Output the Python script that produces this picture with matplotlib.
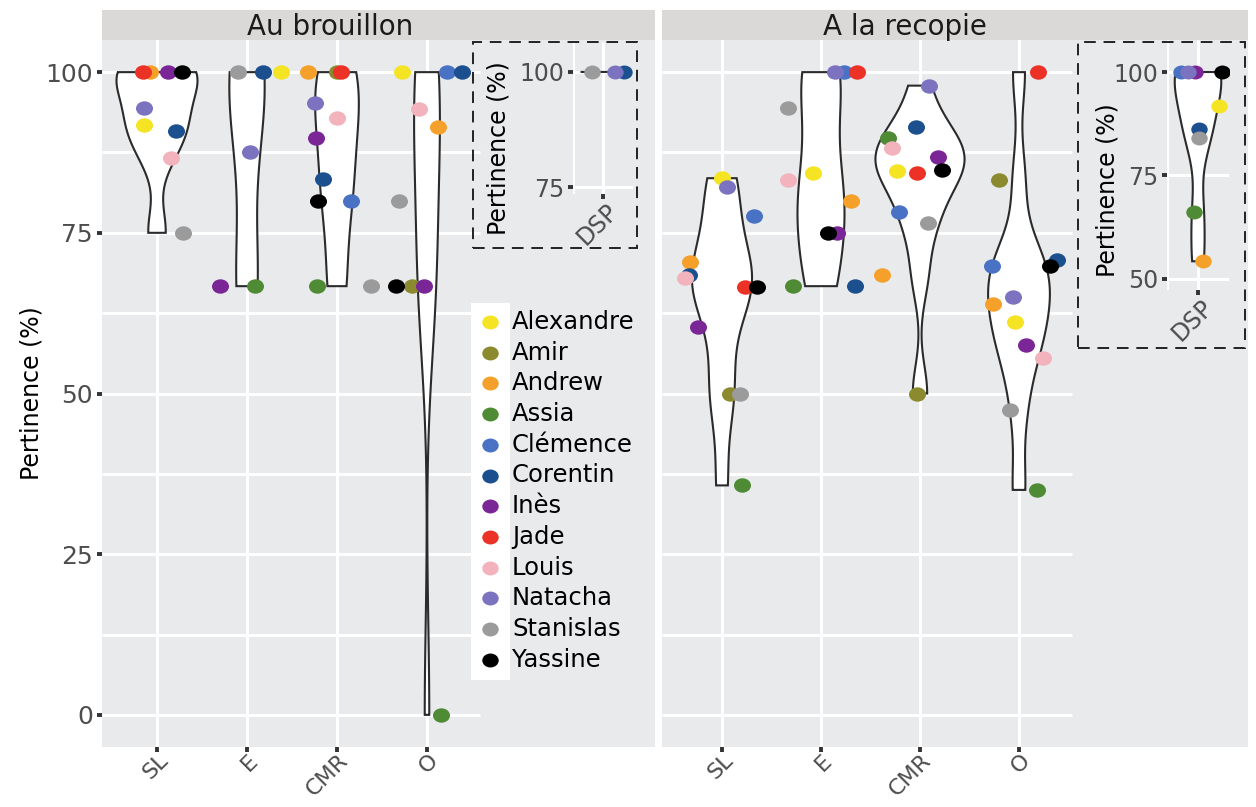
import numpy as np
import matplotlib
matplotlib.use('Agg')
import matplotlib.pyplot as plt
from matplotlib.path import Path
from matplotlib.markers import MarkerStyle
from matplotlib.patches import Rectangle, Polygon
from matplotlib.transforms import Affine2D, ScaledTranslation

W, H = 1256, 807
PANEL = '#E8EAEC'
STRIP = '#DAD9D8'
plt.rcParams['font.family'] = ['DejaVu Sans']

people = ['Alexandre', 'Amir', 'Andrew', 'Assia', 'Clémence', 'Corentin',
          'Inès', 'Jade', 'Louis', 'Natacha', 'Stanislas', 'Yassine']
colors = ['#F4E423', '#8C8A2E', '#F5A02A', '#4F8A35', '#4A72C4', '#1B4F8E',
          '#7A2696', '#EC3127', '#F2B3BD', '#7B73C0', '#9B9B9B', '#000000']
cats = ['SL', 'E', 'CMR', 'O']

# "Au brouillon" panel
brou_cat = ['SL'] * 9 + ['E'] * 6 + ['CMR'] * 11 + ['O'] * 10
brou_who = ['Jade', 'Andrew', 'Inès', 'Yassine', 'Natacha', 'Alexandre', 'Corentin', 'Louis', 'Stanislas',
            'Stanislas', 'Corentin', 'Alexandre', 'Natacha', 'Inès', 'Assia',
            'Andrew', 'Amir', 'Jade', 'Natacha', 'Louis', 'Inès', 'Corentin', 'Yassine', 'Clémence', 'Assia', 'Stanislas',
            'Alexandre', 'Clémence', 'Corentin', 'Louis', 'Andrew', 'Stanislas', 'Yassine', 'Amir', 'Inès', 'Assia']
brou_val = [100, 100, 100, 100, 94.4, 91.7, 90.9, 86.7, 75,
            100, 100, 100, 87.5, 66.7, 66.7,
            100, 100, 100, 95.2, 92.9, 89.7, 83.3, 80, 80, 66.7, 66.7,
            100, 100, 100, 94.2, 91.4, 80, 66.7, 66.7, 66.7, 0]
# horizontal jitter (category units)
brou_jit = [-0.16, -0.08, 0.12, 0.28, -0.15, -0.15, 0.21, 0.16, 0.29,
            -0.10, 0.18, 0.38, 0.03, -0.30, 0.09,
            -0.32, 0.0, 0.04, -0.24, 0.0, -0.23, -0.16, -0.21, 0.15, -0.22, 0.38,
            -0.28, 0.22, 0.39, -0.09, 0.12, -0.31, -0.34, -0.17, -0.03, 0.15]

# "A la recopie" panel
reco_cat = ['SL'] * 12 + ['E'] * 11 + ['CMR'] * 12 + ['O'] * 12
reco_who = ['Alexandre', 'Natacha', 'Clémence', 'Andrew', 'Corentin', 'Louis', 'Jade', 'Yassine', 'Inès', 'Amir', 'Stanislas', 'Assia',
            'Stanislas', 'Louis', 'Alexandre', 'Natacha', 'Clémence', 'Jade', 'Andrew', 'Inès', 'Yassine', 'Assia', 'Corentin',
            'Natacha', 'Corentin', 'Assia', 'Louis', 'Inès', 'Alexandre', 'Jade', 'Yassine', 'Clémence', 'Stanislas', 'Andrew', 'Amir',
            'Jade', 'Amir', 'Clémence', 'Corentin', 'Yassine', 'Natacha', 'Andrew', 'Alexandre', 'Inès', 'Louis', 'Stanislas', 'Assia']
reco_val = [83.5, 82.1, 77.6, 70.4, 68.5, 67.9, 66.5, 66.5, 60.3, 50, 50, 35.7,
            94.4, 83.2, 84.3, 100, 100, 100, 80, 75, 75, 66.7, 66.7,
            97.9, 91.4, 89.7, 88.2, 86.8, 84.6, 84.3, 84.7, 78.3, 76.5, 68.4, 50,
            100, 83.2, 69.8, 70.7, 69.8, 65, 63.9, 61.1, 57.5, 55.6, 47.5, 35]
reco_jit = [0.0, 0.05, 0.32, -0.32, -0.33, -0.37, 0.23, 0.35, -0.24, 0.08, 0.18, 0.20,
            -0.33, -0.33, -0.08, 0.14, 0.23, 0.36, 0.30, 0.16, 0.07, -0.28, 0.34,
            0.09, -0.04, -0.32, -0.28, 0.18, -0.23, -0.03, 0.22, -0.21, 0.08, -0.38, -0.03,
            0.19, -0.20, -0.27, 0.38, 0.31, -0.06, -0.26, -0.04, 0.07, 0.24, -0.09, 0.18]

# DSP insets
dsp_brou_who = ['Stanislas', 'Natacha', 'Corentin']
dsp_brou_val = [100, 100, 100]
dsp_brou_jit = [-0.22, 0.24, 0.42]
dsp_reco_who = ['Clémence', 'Natacha', 'Inès', 'Yassine', 'Alexandre', 'Corentin', 'Stanislas', 'Assia', 'Andrew']
dsp_reco_val = [100, 100, 100, 100, 91.8, 86.2, 84, 66.1, 54.2]
dsp_reco_jit = [-0.33, -0.2, -0.05, 0.46, 0.41, 0.02, 0.02, -0.08, 0.1]

col_of = dict(zip(people, colors))
order = {p: i for i, p in enumerate(people)}
dot = MarkerStyle(Path.unit_circle().transformed(Affine2D().scale(1.18, 1.0)))


def bw_nrd0(x):
    x = np.asarray(x, float)
    hi = np.std(x, ddof=1) if len(x) > 1 else 0.0
    iqr = np.subtract(*np.percentile(x, [75, 25]))
    lo = min(hi, iqr / 1.34)
    if not lo > 0:
        lo = hi or abs(x[0]) or 1.0
    return 0.9 * lo * len(x) ** -0.2


def density(vals):
    v = np.asarray(vals, float)
    bw = bw_nrd0(v)
    grid = np.linspace(v.min(), v.max(), 512)
    d = np.exp(-0.5 * ((grid[:, None] - v[None, :]) / bw) ** 2).sum(1) / (len(v) * bw * np.sqrt(2 * np.pi))
    return grid, d


def draw_violins(ax, groups):
    dens = [density(v) for v in groups]
    dmax = max(d.max() for _, d in dens)
    for i, (g, d) in enumerate(dens):
        hw = 0.45 * d / dmax
        xs = np.concatenate([i + 1 - hw, (i + 1 + hw)[::-1]])
        ys = np.concatenate([g, g[::-1]])
        ax.add_patch(Polygon(np.column_stack([xs, ys]), closed=True, fc='white',
                             ec='#2B2B2B', lw=1.5, zorder=2))


def draw_points(ax, pos, who, val, jit, s=150):
    idx = sorted(range(len(who)), key=lambda k: order[who[k]])
    for k in idx:
        ax.scatter(pos[k] + jit[k], val[k], s=s, marker=dot, color=col_of[who[k]],
                   linewidths=0, zorder=3)


def px_rect(x0, y0, x1, y1):
    return [x0 / W, 1 - y1 / H, (x1 - x0) / W, (y1 - y0) / H]


def style_ticks(ax, size=18):
    for sp in ax.spines.values():
        sp.set_visible(False)
    ax.tick_params(axis='both', length=3.5, width=2.8, color='#333333',
                   labelcolor='#4D4D4D', labelsize=size, pad=3)


fig = plt.figure(figsize=(W / 100, H / 100), dpi=100)


def main_panel(xpix, cat_px, grid_px, cat, who, val, jit, title, title_x, ylabels):
    x0, x1 = xpix
    step = cat_px[1]
    xlim = (1 - (cat_px[0] - x0) / step, 1 + (x1 - cat_px[0]) / step)
    gend = 1 + (grid_px - cat_px[0]) / step
    ax = fig.add_axes(px_rect(x0, 40, x1, 747))
    ax.set_facecolor(PANEL)
    ax.hlines(np.arange(0, 100.1, 12.5), xlim[0], gend, color='white', lw=2.2, zorder=0.5)
    ax.vlines(np.arange(1, 5), -10, 110, color='white', lw=2.2, zorder=0.5)
    pos = [cats.index(c) + 1 for c in cat]
    groups = [[v for c, v in zip(cat, val) if c == cc] for cc in cats]
    draw_violins(ax, groups)
    draw_points(ax, pos, who, val, jit)
    ax.set_xlim(*xlim)
    ax.set_ylim(-5, 105)
    ax.set_xticks(range(1, 5))
    ax.set_xticklabels(cats, rotation=45, ha='right', va='center', rotation_mode='anchor')
    ax.set_yticks([0, 25, 50, 75, 100])
    style_ticks(ax)
    ax.tick_params(axis='x', pad=4, labelsize=16)
    if ylabels:
        ax.set_yticklabels(['0', '25', '50', '75', '100'])
    else:
        ax.tick_params(axis='y', length=0, labelleft=False)
    for lab in ax.get_xticklabels():
        lab.set_transform(lab.get_transform() + ScaledTranslation(0.08, 0, fig.dpi_scale_trans))
    sx = fig.add_axes(px_rect(x0, 10, x1, 40))
    sx.set_facecolor(STRIP)
    sx.set_xticks([]); sx.set_yticks([])
    for sp in sx.spines.values():
        sp.set_visible(False)
    sx.text((title_x - x0) / (x1 - x0), 0.42, title, transform=sx.transAxes,
            ha='center', va='center', size=20, color='#1A1A1A')
    return ax


main_panel((102, 655), (157, 90), 480, brou_cat, brou_who, brou_val, brou_jit,
           'Au brouillon', 330, True)
main_panel((662, 1248), (722, 99), 1072, reco_cat, reco_who, reco_val, reco_jit,
           'A la recopie', 905, False)
fig.text(32 / W, 1 - 393 / H, 'Pertinence (%)', rotation=90, ha='center', va='center', size=17)


def inset(rect_px, box_px, ylim, yticks, who, val, jit, ylab_px):
    ax = fig.add_axes(px_rect(*rect_px))
    ax.set_facecolor(PANEL)
    ax.hlines(yticks, 0.4, 1.6, color='white', lw=2.2, zorder=0.5)
    ax.vlines([1], *ylim, color='white', lw=2.2, zorder=0.5)
    ax.axvline(0.4, color='white', lw=3, zorder=0.6)
    draw_violins(ax, [val])
    draw_points(ax, [1] * len(val), who, val, jit, s=140)
    ax.set_xlim(0.4, 1.6)
    ax.set_ylim(*ylim)
    ax.set_xticks([1])
    ax.set_xticklabels(['DSP'], rotation=45, ha='right', va='center', rotation_mode='anchor')
    ax.set_yticks(yticks)
    ax.set_yticklabels([str(t) for t in yticks])
    style_ticks(ax, size=17)
    ax.tick_params(axis='x', pad=6)
    for lab in ax.get_xticklabels():
        lab.set_transform(lab.get_transform() + ScaledTranslation(0.11, 0, fig.dpi_scale_trans))
    bx0, by0, bx1, by1 = box_px
    fig.add_artist(Rectangle((bx0 / W, 1 - by1 / H), (bx1 - bx0) / W, (by1 - by0) / H,
                             transform=fig.transFigure, fill=False, ec='#222222',
                             lw=1.4, ls=(0, (6, 4)), zorder=5))
    fig.text(ylab_px[0] / W, 1 - ylab_px[1] / H, 'Pertinence (%)', rotation=90,
             ha='center', va='center', size=17)


inset((573, 42, 633, 194), (473, 42, 637, 248), (73.5, 106.5), [75, 100],
      dsp_brou_who, dsp_brou_val, dsp_brou_jit, (498, 148))
inset((1167, 40, 1229, 290), (1078, 42, 1245, 348), (47.25, 107.75), [50, 75, 100],
      dsp_reco_who, dsp_reco_val, dsp_reco_jit, (1107, 190))

# legend
lg = fig.add_axes(px_rect(465, 300, 650, 685))
lg.set_xlim(465, 650)
lg.set_ylim(685, 300)
lg.axis('off')
lg.add_patch(Rectangle((471, 303), 39, 377, fc='white', ec='none'))
for i, p in enumerate(people):
    y = 322 + 30.7 * i
    lg.scatter(490, y, s=140, marker=dot, color=col_of[p], linewidths=0)
    lg.text(512, y, p, ha='left', va='center', size=17.5, color='black')

fig.savefig('out.png', dpi=100)
